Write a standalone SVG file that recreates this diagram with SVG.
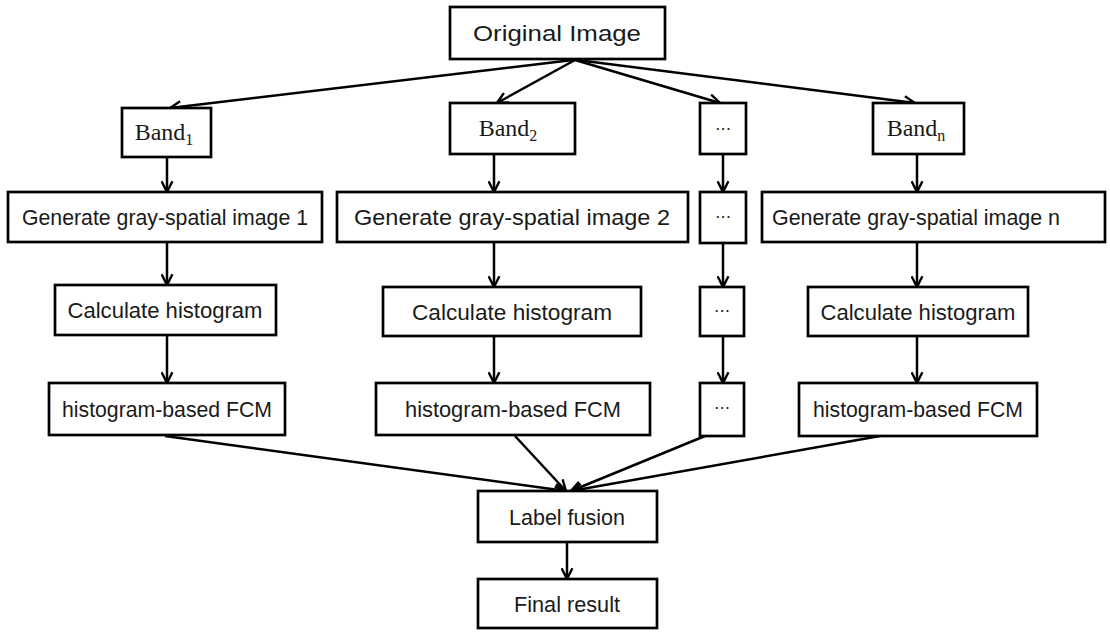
<svg xmlns="http://www.w3.org/2000/svg" width="1110" height="632" viewBox="0 0 1110 632">
<defs>
<marker id="ah" markerUnits="userSpaceOnUse" viewBox="0 0 12 12" refX="11" refY="6" markerWidth="13" markerHeight="13" orient="auto">
<path d="M1,1 L11,6 L1,11" fill="none" stroke="#000" stroke-width="2.2"/>
</marker>
<style>
.box{fill:#fff;stroke:#000;stroke-width:2.7}
.t{font-family:"Liberation Sans",Arial,sans-serif;font-size:22px;fill:#1a1a1a;text-anchor:middle}
.s{font-family:"Liberation Serif","DejaVu Serif",serif;font-size:24px;fill:#1a1a1a;text-anchor:middle}
.sub{font-size:16px}
.d{font-family:"DejaVu Sans",sans-serif;font-size:16px;fill:#1a1a1a;text-anchor:middle}
.c{fill:none;stroke:#000;stroke-width:2.5;marker-end:url(#ah)}
</style>
</defs>
<rect width="1110" height="632" fill="#fff"/>
<g id="connectors">
<line class="c" x1="573" y1="60" x2="170" y2="108"/>
<line class="c" x1="575" y1="60" x2="497" y2="103"/>
<line class="c" x1="575" y1="60" x2="720" y2="103"/>
<line class="c" x1="577" y1="60" x2="915" y2="103"/>
<line class="c" x1="167" y1="157" x2="167" y2="192"/>
<line class="c" x1="494" y1="154" x2="494" y2="192"/>
<line class="c" x1="723" y1="154" x2="723" y2="192"/>
<line class="c" x1="917" y1="154" x2="917" y2="192"/>
<line class="c" x1="167" y1="242" x2="167" y2="285"/>
<line class="c" x1="494" y1="242" x2="494" y2="287"/>
<line class="c" x1="723" y1="243" x2="723" y2="287"/>
<line class="c" x1="917" y1="242" x2="917" y2="287"/>
<line class="c" x1="167" y1="335" x2="167" y2="383"/>
<line class="c" x1="494" y1="336" x2="494" y2="383"/>
<line class="c" x1="723" y1="336" x2="723" y2="383"/>
<line class="c" x1="917" y1="336" x2="917" y2="383"/>
<line class="c" x1="165" y1="436" x2="566" y2="491"/>
<line class="c" x1="515" y1="436" x2="566" y2="491"/>
<line class="c" x1="705" y1="436" x2="571" y2="491"/>
<line class="c" x1="880" y1="436" x2="571" y2="491"/>
<line class="c" x1="567" y1="542" x2="567" y2="579"/>
</g>
<g id="original"><rect class="box" x="450" y="7" width="215" height="52"/><text class="t" x="557" y="41" textLength="168" lengthAdjust="spacingAndGlyphs">Original Image</text></g>
<g id="band1"><rect class="box" x="122" y="108" width="89" height="49"/><text class="s" x="164" y="140">Band<tspan class="sub" dy="5">1</tspan></text></g>
<g id="band2"><rect class="box" x="450" y="103" width="125" height="51"/><text class="s" x="508" y="136">Band<tspan class="sub" dy="5">2</tspan></text></g>
<g id="dots1"><rect class="box" x="700" y="103" width="46" height="51"/><text class="d" x="723" y="134">⋯</text></g>
<g id="bandn"><rect class="box" x="873" y="103" width="91" height="51"/><text class="s" x="916" y="136">Band<tspan class="sub" dy="5">n</tspan></text></g>
<g id="gen1"><rect class="box" x="8" y="192" width="314" height="50"/><text class="t" x="165" y="225" textLength="286" lengthAdjust="spacingAndGlyphs">Generate gray-spatial image 1</text></g>
<g id="gen2"><rect class="box" x="337" y="192" width="351" height="50"/><text class="t" x="512" y="225" textLength="316" lengthAdjust="spacingAndGlyphs">Generate gray-spatial image 2</text></g>
<g id="dots2"><rect class="box" x="700" y="192" width="46" height="51"/><text class="d" x="723" y="222">⋯</text></g>
<g id="genn"><rect class="box" x="762" y="192" width="343" height="50"/><text class="t" x="916" y="225" textLength="288" lengthAdjust="spacingAndGlyphs">Generate gray-spatial image n</text></g>
<g id="calc1"><rect class="box" x="55" y="285" width="221" height="50"/><text class="t" x="165" y="318" textLength="195" lengthAdjust="spacingAndGlyphs">Calculate histogram</text></g>
<g id="calc2"><rect class="box" x="383" y="287" width="258" height="49"/><text class="t" x="512" y="320" textLength="200" lengthAdjust="spacingAndGlyphs">Calculate histogram</text></g>
<g id="dots3"><rect class="box" x="700" y="287" width="44" height="49"/><text class="d" x="722" y="316">⋯</text></g>
<g id="calcn"><rect class="box" x="808" y="287" width="220" height="49"/><text class="t" x="918" y="320" textLength="195" lengthAdjust="spacingAndGlyphs">Calculate histogram</text></g>
<g id="fcm1"><rect class="box" x="49" y="383" width="236" height="52"/><text class="t" x="167" y="417" textLength="210" lengthAdjust="spacingAndGlyphs">histogram-based FCM</text></g>
<g id="fcm2"><rect class="box" x="376" y="383" width="274" height="52"/><text class="t" x="513" y="417" textLength="216" lengthAdjust="spacingAndGlyphs">histogram-based FCM</text></g>
<g id="dots4"><rect class="box" x="700" y="383" width="44" height="53"/><text class="d" x="722" y="413">⋯</text></g>
<g id="fcmn"><rect class="box" x="799" y="383" width="238" height="53"/><text class="t" x="918" y="417" textLength="210" lengthAdjust="spacingAndGlyphs">histogram-based FCM</text></g>
<g id="fusion"><rect class="box" x="478" y="491" width="179" height="51"/><text class="t" x="567" y="525" textLength="116" lengthAdjust="spacingAndGlyphs">Label fusion</text></g>
<g id="final"><rect class="box" x="478" y="579" width="179" height="49"/><text class="t" x="567" y="612" textLength="106" lengthAdjust="spacingAndGlyphs">Final result</text></g>
</svg>
